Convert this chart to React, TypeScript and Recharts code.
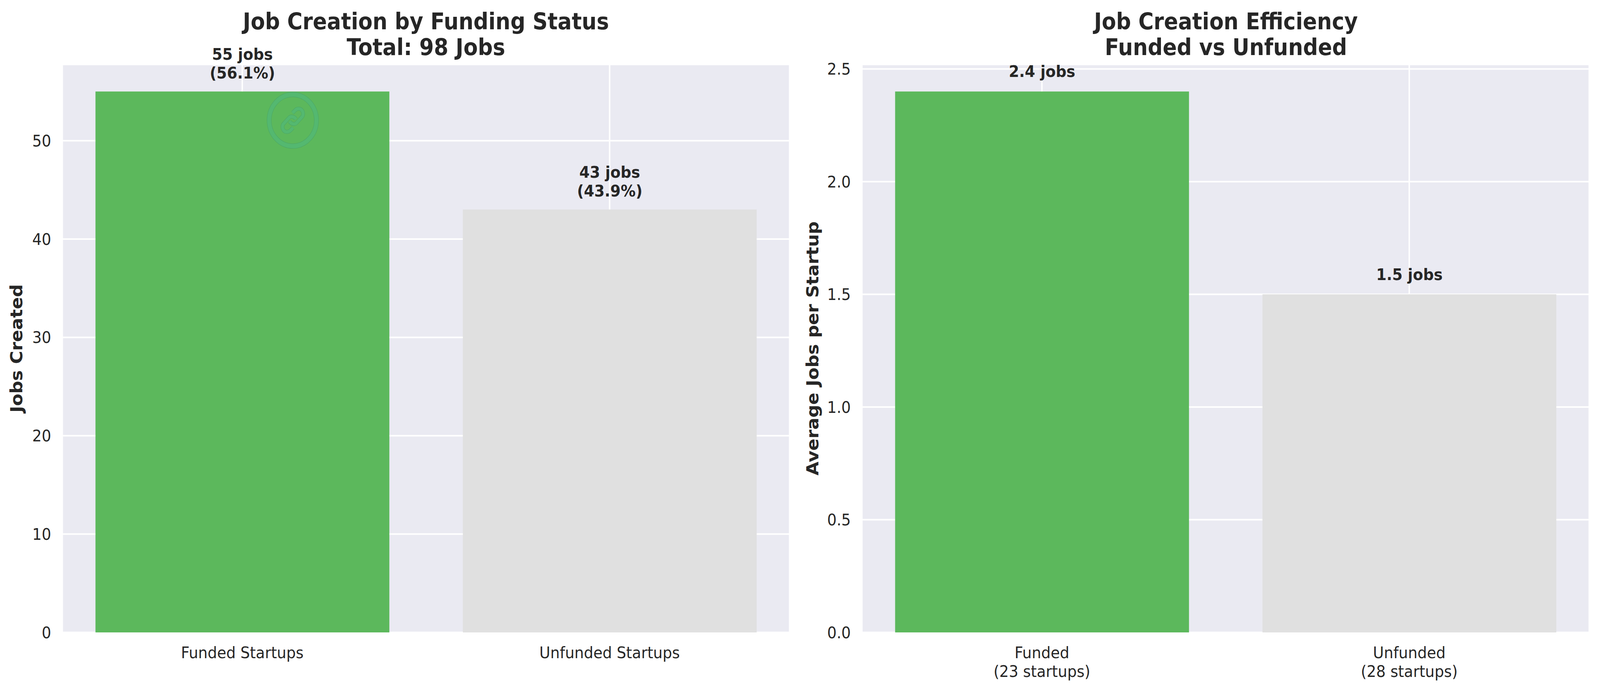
import React from 'react';
import { BarChart, Bar, XAxis, YAxis, CartesianGrid, Cell, LabelList } from 'recharts';

const FONT = '"DejaVu Sans", sans-serif';
const TEXT = '#262626';
const PANEL = '#EAEAF2';
const barColors = ['#5CB85C', '#E0E0E0'];

// left panel
const totalCategories = ['Funded Startups', 'Unfunded Startups'];
const totalJobs = [55, 43];
const totalShares = ['56.1%', '43.9%'];
const totalTicks = [0, 10, 20, 30, 40, 50];

// right panel
const avgCategories = [['Funded', '(23 startups)'], ['Unfunded', '(28 startups)']];
const avgJobs = [2.4, 1.5];
const avgTicks = [0, 0.5, 1, 1.5, 2, 2.5];

const totalData = totalCategories.map((name, i) => ({ pos: i, name, value: totalJobs[i], share: totalShares[i] }));
const avgData = avgCategories.map((name, i) => ({ pos: i, name, value: avgJobs[i] }));

const CategoryTick = ({ x, y, payload, lines }: any) => (
  <text x={x} textAnchor="middle" fontFamily={FONT} fontSize={41.67} fill={TEXT}>
    {lines[payload.value].map((line: string, i: number) => (
      <tspan key={line} x={x} y={y + 64 + i * 48}>{line}</tspan>
    ))}
  </text>
);

const ValueLabel = ({ x, y, width, value, index, lines, gap }: any) => {
  const rows = lines(value, index);
  return (
    <text textAnchor="middle" fontFamily={FONT} fontSize={41.67} fontWeight="bold" fill={TEXT}>
      {rows.map((line: string, i: number) => (
        <tspan key={line} x={x + width / 2} y={y - gap - (rows.length - 1 - i) * 48}>{line}</tspan>
      ))}
    </text>
  );
};

const Title = ({ x, lines }: { x: number; lines: string[] }) => (
  <text textAnchor="middle" fontFamily={FONT} fontSize={58.33} fontWeight="bold" fill={TEXT}>
    {lines.map((line, i) => (
      <tspan key={line} x={x} y={75 + i * 66}>{line}</tspan>
    ))}
  </text>
);

// faint logo stamped over the first bar
const linkPath = 'M -0.7 -19 L 7 -26 C 12 -31 22 -31 26 -25 C 30 -20 30 -12 25 -8 L 10.3 6.7 C 6 10.7 -3 11 -9 2.7';
const Watermark = () => (
  <svg width={200} height={200} viewBox="-100 -100 200 200" style={{ position: 'absolute', left: 718, top: 208 }} fill="none">
    <circle r={66} stroke="#4CA766" strokeWidth={13} />
    <circle r={66} stroke="#54B870" strokeWidth={11} />
    {[0, 180].map((angle) => (
      <g key={angle} transform={`rotate(${angle})`}>
        <path d={linkPath} stroke="#4CA766" strokeWidth={10} />
        <path d={linkPath} stroke="#54B870" strokeWidth={8} />
      </g>
    ))}
  </svg>
);

const axisTick = { fontFamily: FONT, fontSize: 41.67, fill: TEXT };
const axisLabel = (value: string, dx: number) => ({
  value,
  angle: -90,
  position: 'insideLeft' as const,
  dx,
  style: { textAnchor: 'middle' as const, fontFamily: FONT, fontSize: 45.83, fontWeight: 'bold', fill: TEXT },
});

const Panel = ({ data, left, yAxisWidth, plotRight, yMax, ticks, tickFmt, tickLines, label, labelDx, rows, labelGap, children }: any) => (
  <div style={{ position: 'absolute', left, top: 0 }}>
    <BarChart width={2235} height={1769} data={data} margin={{ top: 165, right: plotRight, bottom: 0, left: 0 }}>
      <CartesianGrid stroke="#FFFFFF" strokeWidth={4} fill={PANEL} />
      <XAxis
        dataKey="pos"
        type="number"
        domain={[-0.49, 1.49]}
        ticks={[0, 1]}
        height={150}
        axisLine={false}
        tickLine={false}
        tickSize={0}
        interval={0}
        tick={<CategoryTick lines={tickLines} />}
      />
      <YAxis
        width={yAxisWidth}
        domain={[0, yMax]}
        ticks={ticks}
        axisLine={false}
        tickLine={false}
        tickSize={0}
        tickMargin={31}
        tickFormatter={tickFmt}
        tick={axisTick}
        label={axisLabel(label, labelDx)}
      />
      <Bar dataKey="value" barSize={821} isAnimationActive={false}>
        {data.map((d: any, i: number) => (
          <Cell key={d.pos} fill={barColors[i]} />
        ))}
        <LabelList dataKey="value" content={<ValueLabel lines={rows} gap={labelGap} />} />
      </Bar>
      {children}
    </BarChart>
  </div>
);

export default function App() {
  // the window can come up narrower than the 4470 the layout was measured at
  const fit = Math.min(1, window.innerWidth / 4470);
  return (
    <div style={{ position: 'absolute', left: 0, top: 0, width: 4470, height: 1769, background: '#FFFFFF', overflow: 'hidden', transform: `scaleX(${fit})`, transformOrigin: '0 0' }}>
      <Panel
        data={totalData}
        left={0}
        yAxisWidth={174}
        plotRight={29}
        yMax={57.75}
        ticks={totalTicks}
        tickFmt={(v: number) => String(v)}
        tickLines={totalCategories.map((c) => [c])}
        label="Jobs Created"
        labelDx={41}
        rows={(v: number, i: number) => [`${v} jobs`, `(${totalShares[i]})`]}
        labelGap={33}
      >
        <Title x={1190} lines={['Job Creation by Funding Status', 'Total: 98 Jobs']} />
      </Panel>
      <Panel
        data={avgData}
        left={2235}
        yAxisWidth={173}
        plotRight={30}
        yMax={2.52}
        ticks={avgTicks}
        tickFmt={(v: number) => v.toFixed(1)}
        tickLines={avgCategories}
        label="Average Jobs per Startup"
        labelDx={30}
        rows={(v: number) => [`${v} jobs`]}
        labelGap={37}
      >
        <Title x={1190} lines={['Job Creation Efficiency', 'Funded vs Unfunded']} />
      </Panel>
      <Watermark />
    </div>
  );
}
